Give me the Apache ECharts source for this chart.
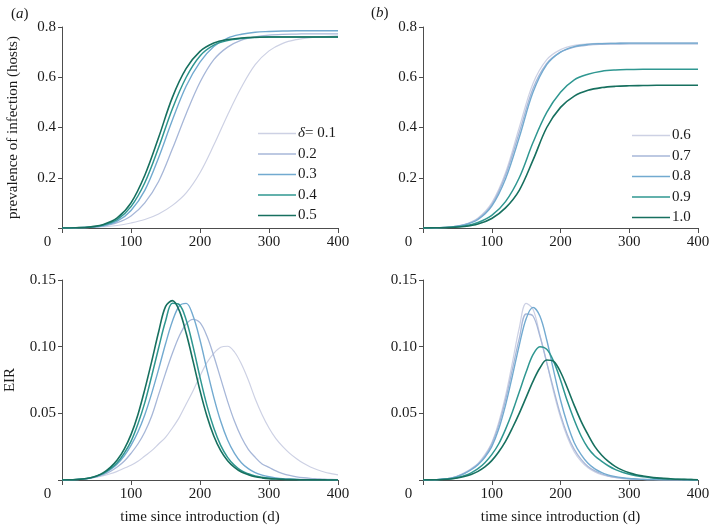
<!DOCTYPE html>
<html>
<head>
<meta charset="utf-8">
<script src="https://cdn.jsdelivr.net/npm/echarts@6/dist/echarts.min.js"></script>
<style>html,body{margin:0;padding:0;background:#fff}#c{width:710px;height:527px}</style>
</head>
<body>
<div id="c"></div>
<script>
// time grids (days)
const tPrev = [0,20,40,60,80,100,120,140,160,180,200,220,240,260,280,300,320,340,360,380,400];
const tEir = [0,10,20,30,40,50,60,70,80,90,100,110,120,130,140,150,160,170,180,190,200,210,220,230,240,250,260,270,280,290,300,310,320,330,340,350,360,370,380,390,400];

// panel (a) legend names and panel (b) legend names
const namesA = ['0.1','0.2','0.3','0.4','0.5'];
const namesB = ['0.6','0.7','0.8','0.9','1.0'];

// panel (a) prevalence of infection
const prevA01 = [0,0.001,0.002,0.005,0.01,0.02,0.034,0.056,0.09,0.14,0.22,0.33,0.45,0.56,0.65,0.705,0.735,0.75,0.758,0.762,0.765];
const prevA02 = [0,0.001,0.003,0.008,0.021,0.048,0.1,0.185,0.315,0.455,0.58,0.67,0.72,0.748,0.761,0.768,0.771,0.772,0.773,0.773,0.773];
const prevA03 = [0,0.001,0.003,0.009,0.027,0.07,0.15,0.28,0.43,0.565,0.66,0.722,0.756,0.771,0.779,0.782,0.784,0.785,0.785,0.785,0.785];
const prevA04 = [0,0.001,0.004,0.012,0.033,0.085,0.18,0.32,0.475,0.6,0.685,0.728,0.746,0.754,0.758,0.76,0.76,0.76,0.76,0.76,0.76];
const prevA05 = [0,0.001,0.004,0.014,0.04,0.10,0.21,0.36,0.52,0.635,0.703,0.736,0.75,0.756,0.759,0.76,0.76,0.76,0.76,0.76,0.76];

// panel (b) prevalence of infection
const prevB06 = [0,0.001,0.004,0.014,0.04,0.10,0.22,0.40,0.575,0.67,0.71,0.727,0.733,0.735,0.736,0.737,0.737,0.737,0.737,0.737,0.737];
const prevB07 = [0,0.001,0.004,0.013,0.037,0.093,0.21,0.38,0.555,0.655,0.70,0.72,0.728,0.731,0.732,0.733,0.733,0.733,0.733,0.733,0.733];
const prevB08 = [0,0.001,0.0035,0.012,0.034,0.087,0.195,0.36,0.54,0.65,0.70,0.722,0.731,0.734,0.735,0.736,0.736,0.736,0.736,0.736,0.736];
const prevB09 = [0,0.001,0.003,0.008,0.022,0.05,0.105,0.2,0.34,0.46,0.54,0.59,0.612,0.624,0.629,0.631,0.632,0.632,0.632,0.632,0.632];
const prevB10 = [0,0.001,0.002,0.006,0.016,0.038,0.08,0.15,0.27,0.40,0.48,0.525,0.548,0.559,0.564,0.566,0.567,0.568,0.568,0.568,0.568];

// panel (a) EIR
const eirA01 = [0,0.0001,0.0004,0.0008,0.0014,0.0022,0.0033,0.0047,0.0065,0.0088,0.011,0.014,0.018,0.022,0.027,0.032,0.039,0.047,0.057,0.067,0.078,0.088,0.095,0.0995,0.1003,0.096,0.087,0.075,0.061,0.049,0.039,0.031,0.025,0.02,0.016,0.0125,0.0098,0.0077,0.006,0.0048,0.0038];
const eirA02 = [0,0.0001,0.0003,0.0006,0.0012,0.0023,0.004,0.0064,0.0097,0.014,0.02,0.027,0.036,0.048,0.064,0.08,0.095,0.108,0.117,0.1205,0.118,0.108,0.093,0.076,0.059,0.044,0.032,0.023,0.017,0.012,0.0095,0.0068,0.0048,0.0034,0.0024,0.0017,0.0012,0.0009,0.0006,0.0004,0.0003];
const eirA03 = [0,0.0001,0.0003,0.0007,0.0014,0.0027,0.0047,0.0077,0.012,0.018,0.026,0.036,0.049,0.065,0.083,0.102,0.119,0.1305,0.1325,0.123,0.105,0.083,0.062,0.044,0.03,0.02,0.013,0.0085,0.0055,0.0036,0.0024,0.0016,0.001,0.0007,0.0005,0.0003,0.0002,0.0002,0.0001,0.0001,0];
const eirA04 = [0,0.0001,0.0003,0.0007,0.0015,0.0029,0.005,0.0085,0.013,0.02,0.029,0.042,0.058,0.078,0.099,0.119,0.1325,0.1315,0.12,0.1,0.077,0.056,0.039,0.026,0.017,0.011,0.007,0.0047,0.003,0.002,0.0013,0.0009,0.0006,0.0004,0.0003,0.0002,0.0001,0.0001,0.0001,0,0];
const eirA05 = [0,0.0001,0.0003,0.0007,0.0015,0.003,0.0055,0.0095,0.015,0.023,0.034,0.049,0.068,0.089,0.111,0.13,0.1345,0.127,0.11,0.089,0.067,0.048,0.033,0.022,0.0145,0.0095,0.006,0.004,0.0025,0.0016,0.001,0.0007,0.0005,0.0003,0.0002,0.0002,0.0001,0.0001,0.0001,0,0];

// panel (b) EIR
const eirB06 = [0,0.0001,0.0003,0.0007,0.0015,0.003,0.0055,0.0085,0.0125,0.019,0.028,0.043,0.063,0.088,0.114,0.1325,0.128,0.109,0.088,0.066,0.047,0.032,0.021,0.014,0.0092,0.006,0.0039,0.0026,0.0017,0.0011,0.0008,0.0005,0.0004,0.0003,0.0002,0.0001,0.0001,0.0001,0,0,0];
const eirB07 = [0,0.0001,0.0003,0.0007,0.0014,0.0028,0.005,0.008,0.012,0.018,0.027,0.041,0.06,0.083,0.106,0.1245,0.123,0.108,0.088,0.068,0.049,0.034,0.023,0.0155,0.0102,0.0068,0.0045,0.003,0.002,0.0014,0.0009,0.0006,0.0004,0.0003,0.0002,0.0001,0.0001,0.0001,0,0,0];
const eirB08 = [0,0.0001,0.0003,0.0007,0.0014,0.0027,0.0048,0.0077,0.0115,0.017,0.025,0.038,0.056,0.078,0.101,0.121,0.1295,0.123,0.105,0.082,0.06,0.042,0.028,0.019,0.0125,0.0083,0.0055,0.0037,0.0025,0.0017,0.0011,0.0008,0.0005,0.0004,0.0003,0.0002,0.0001,0.0001,0.0001,0,0];
const eirB09 = [0,0.0001,0.0002,0.0005,0.001,0.0019,0.0033,0.0054,0.0085,0.013,0.019,0.027,0.038,0.051,0.066,0.081,0.094,0.1,0.098,0.089,0.075,0.059,0.045,0.033,0.024,0.018,0.014,0.0105,0.0078,0.0058,0.0043,0.0032,0.0024,0.0018,0.0013,0.001,0.0007,0.0005,0.0004,0.0003,0.0002];
const eirB10 = [0,0.0001,0.0002,0.0004,0.0008,0.0015,0.0026,0.0042,0.0065,0.0098,0.0145,0.021,0.029,0.039,0.05,0.062,0.074,0.084,0.09,0.089,0.081,0.069,0.056,0.044,0.034,0.025,0.0185,0.0137,0.01,0.0074,0.0055,0.004,0.003,0.0022,0.0016,0.0012,0.0009,0.0006,0.0005,0.0003,0.0002];

// tick labels
const xTicks = [0,100,200,300,400];
const yPrevTicks = ['0.2','0.4','0.6','0.8'];
const yEirTicks = ['0.05','0.10','0.15'];

const colors = ['#cdd1e4','#a7b7d8','#72aad0','#2f9791','#17705f'];
const widths = [1.2,1.3,1.4,1.5,1.6];
const FONT = "'Liberation Serif','Times New Roman',serif";
const TXT = '#1a1a1a';
const AX = '#4d4d4d';

const grids = [
  {left:62, top:27, width:276, height:201},
  {left:423, top:27, width:275, height:201},
  {left:62, top:280, width:276, height:200},
  {left:423, top:280, width:275, height:200}
].map(g => Object.assign({containLabel:false, outerBoundsMode:'none'}, g));

function xAxis(i, withName) {
  return {
    type:'value', gridIndex:i, min:0, max:400, interval:100,
    axisLine:{show:true, lineStyle:{color:AX, width:1}},
    axisTick:{show:true, length:5, lineStyle:{color:AX}},
    splitLine:{show:false},
    axisLabel:{
      margin:7, color:TXT, fontFamily:FONT, fontSize:15,
      formatter: v => (xTicks.indexOf(v) < 0 ? '' : (v === 0 ? '{z|0}' : String(v))),
      rich:{z:{fontFamily:FONT, fontSize:15, color:TXT, padding:[0,29,0,0]}}
    },
    name: withName ? 'time since introduction (d)' : '',
    nameLocation:'middle', nameGap:30,
    nameTextStyle:{fontFamily:FONT, fontSize:15, color:TXT}
  };
}
function yAxis(i, isPrev, name, gap) {
  return {
    type:'value', gridIndex:i, min:0, max: isPrev ? 0.8 : 0.15, interval: isPrev ? 0.2 : 0.05,
    axisLine:{show:true, lineStyle:{color:AX, width:1}},
    axisTick:{show:true, length:4, lineStyle:{color:AX}},
    splitLine:{show:false},
    axisLabel:{
      margin:6, color:TXT, fontFamily:FONT, fontSize:15,
      formatter: v => {
        if (v === 0) return '';
        const s = isPrev ? v.toFixed(1) : v.toFixed(2);
        const list = isPrev ? yPrevTicks : yEirTicks;
        return list.indexOf(s) < 0 ? '' : s;
      }
    },
    name: name, nameLocation:'middle', nameGap: gap, nameRotate:90,
    nameTextStyle:{fontFamily:FONT, fontSize:15, color:TXT}
  };
}

function mk(names, arrays, tArr, gi) {
  return arrays.map((arr, k) => ({
    type:'line', name:names[k], xAxisIndex:gi, yAxisIndex:gi,
    data: arr.map((v, j) => [tArr[j], v]),
    smooth:0.35, symbol:'none', showSymbol:false, silent:true,
    lineStyle:{color:colors[k], width:widths[k]},
    itemStyle:{color:colors[k]},
    z: 2 + k
  }));
}

const series = [].concat(
  mk(namesA, [prevA01,prevA02,prevA03,prevA04,prevA05], tPrev, 0),
  mk(namesB, [prevB06,prevB07,prevB08,prevB09,prevB10], tPrev, 1),
  mk(namesA, [eirA01,eirA02,eirA03,eirA04,eirA05], tEir, 2),
  mk(namesB, [eirB06,eirB07,eirB08,eirB09,eirB10], tEir, 3)
);

const legendBase = {
  orient:'vertical', itemWidth:38, itemHeight:10, itemGap:5.5,
  textStyle:{fontFamily:FONT, fontSize:15, color:TXT, padding:[0,0,0,-3],
    rich:{d:{fontFamily:FONT, fontSize:15, fontStyle:'italic', color:TXT}}},
  selectedMode:false, icon:'path://M0,5 L38,5 L38,6.4 L0,6.4 Z'
};

const option = {
  backgroundColor:'#fff',
  animation:false,
  title:[
    {text:'({i|a})', left:6, top:2, textStyle:{fontFamily:FONT, fontSize:15, fontWeight:'normal', color:TXT,
      rich:{i:{fontFamily:FONT, fontSize:15, fontStyle:'italic', color:TXT}}}},
    {text:'({i|b})', left:366, top:1, textStyle:{fontFamily:FONT, fontSize:15, fontWeight:'normal', color:TXT,
      rich:{i:{fontFamily:FONT, fontSize:15, fontStyle:'italic', color:TXT}}}}
  ],
  grid: grids,
  xAxis:[xAxis(0,false), xAxis(1,false), xAxis(2,true), xAxis(3,true)],
  yAxis:[
    yAxis(0,true,'prevalence of infection (hosts)',41),
    yAxis(1,true,'',40),
    yAxis(2,false,'EIR',44),
    yAxis(3,false,'',40)
  ],
  legend:[
    Object.assign({}, legendBase, {data:namesA, left:253, top:121,
      formatter: n => n === '0.1' ? '{d|δ}= 0.1' : n}),
    Object.assign({}, legendBase, {data:namesB, left:627, top:123})
  ],
  series: series
};

const chart = echarts.init(document.getElementById('c'), null, {renderer:'canvas'});
chart.setOption(option);
</script>
</body>
</html>
